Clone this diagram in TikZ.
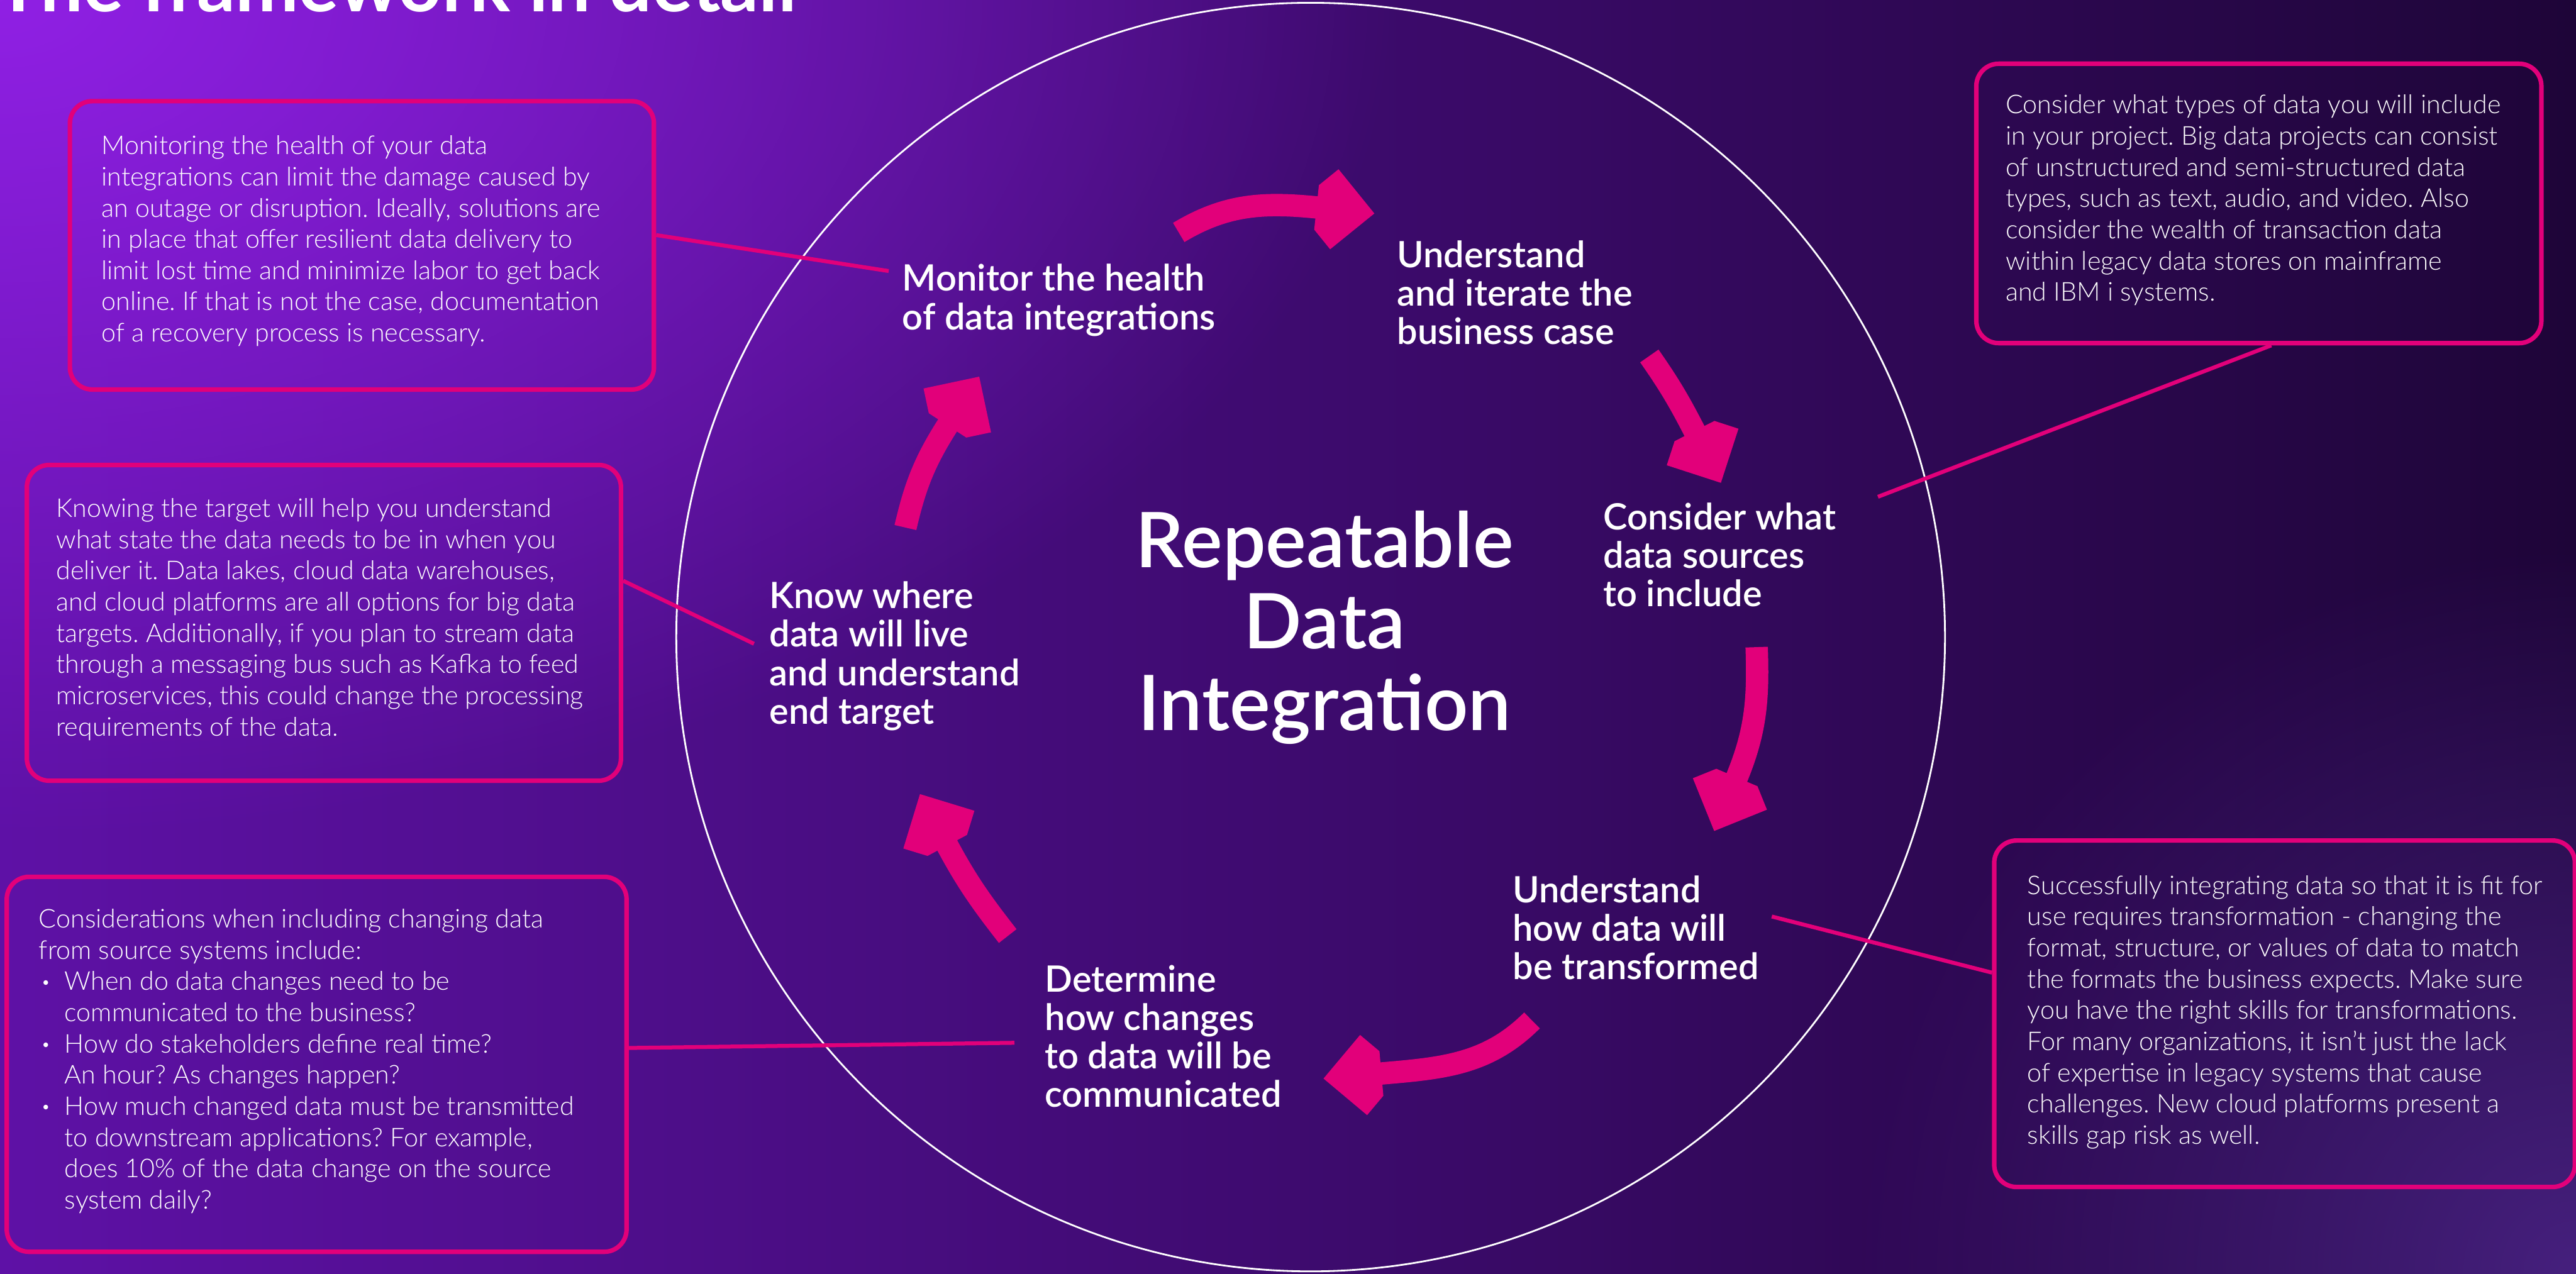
\documentclass[tikz,border=0pt]{standalone}
\usepackage{fontspec}
\setmainfont{Lato}
\newfontfamily\corps{Lato}[UprightFont={* Light}]
\newfontfamily\etape{Lato}[UprightFont={* Semibold}]
\usetikzlibrary{fadings}
\definecolor{rose}{HTML}{E2007A}
\definecolor{violetA}{HTML}{9020E4}
\definecolor{violetB}{HTML}{5E11A6}
\definecolor{violetC}{HTML}{34085E}
\definecolor{violetD}{HTML}{1E0538}
\definecolor{violetE}{HTML}{46207E}
\tikzfading[name=halo, inner color=transparent!0, outer color=transparent!100]
\newcommand{\puce}{\hspace*{0.04cm}\makebox[0.42cm][l]{\raisebox{0.12em}{\fontsize{8}{8}\selectfont\textbullet}}}
\newcommand{\suite}{\hspace*{0.46cm}}
\frenchspacing

\begin{document}
\begin{tikzpicture}
        \tikzset{boite/.style={draw=rose, line width=2.3pt, rounded corners=0.4cm, inner sep=0pt, anchor=north west}}
        \tikzset{texte/.style={text=white, align=left, inner sep=0pt, anchor=north west, font=\corps\fontsize{13.2}{15.9}\selectfont}}
        \tikzset{etiq/.style={text=white, align=left, inner sep=0pt, anchor=north west, font=\etape\fontsize{18.5}{19.6}\selectfont}}
        \tikzset{lien/.style={draw=rose, line width=2pt}}
        \tikzset{fleche/.style={draw=rose, line width=0.4cm}}
        \tikzset{pointe/.pic={\fill[rose] (0,0) -- (-0.72,0.72) -- (-1.04,0.40) -- (-1.04,-0.40) -- (-0.72,-0.72) -- cycle;}}
        \useasboundingbox (0,0) rectangle (46.09,22.79);
        \clip (0,0) rectangle (46.09,22.79);
        \shade[left color=violetB, middle color=violetC, right color=violetD] (0,0) rectangle (46.09,22.79);
        \fill[violetA, path fading=halo] (0,22.79) ellipse (25 and 15);
        \fill[violetE, path fading=halo] (46.09,0) circle (13);
        \node[anchor=base west, inner sep=0pt, text=white, font=\bfseries\fontsize{38.5}{42}\selectfont] (T) at (-0.08,22.58) {The framework in detail};
        \draw[white, line width=0.9pt] (23.45,11.39) circle (11.35);
        \node[anchor=north, align=center, inner sep=0pt, text=white, font=\etape\fontsize{39}{41.5}\selectfont] (RDI) at (23.70,13.66) {Repeatable\\Data\\Integration};
        \node[etiq] (MH) at (16.14,18.07) {Monitor the health\\of data integrations};
        \node[etiq] (UB) at (24.99,18.49) {Understand\\and iterate the\\business case};
        \node[etiq] (CD) at (28.68,13.80) {Consider what\\data sources\\to include};
        \node[etiq] (UT) at (27.06,7.13) {Understand\\how data will\\be transformed};
        \node[etiq] (DC) at (18.69,5.53) {Determine\\how changes\\to data will be\\communicated};
        \node[etiq] (KW) at (13.76,12.39) {Know where\\data will live\\and understand\\end target};
        \node[boite, minimum width=10.45cm, minimum height=5.16cm] (BMH) at (1.21,21.02) {};
        \node[boite, minimum width=10.11cm, minimum height=5.00cm] (BCD) at (35.32,21.69) {};
        \node[boite, minimum width=10.63cm, minimum height=5.65cm] (BKW) at (0.44,14.51) {};
        \node[boite, minimum width=10.39cm, minimum height=6.20cm] (BUT) at (35.64,7.79) {};
        \node[boite, minimum width=11.09cm, minimum height=6.71cm] (BDC) at (0.08,7.14) {};
        \node[texte] (TMH) at (1.81,20.37) {Monitoring the health of your data\\integrations can limit the damage caused by\\an outage or disruption. Ideally, solutions are\\in place that offer resilient data delivery to\\limit lost time and minimize labor to get back\\online. If that is not the case, documentation\\of a recovery process is necessary.};
        \node[texte] (TCD) at (35.88,21.10) {Consider what types of data you will include\\in your project. Big data projects can consist\\of unstructured and semi-structured data\\types, such as text, audio, and video. Also\\consider the wealth of transaction data\\within legacy data stores on mainframe\\and IBM i systems.};
        \node[texte] (TKW) at (1.00,13.88) {Knowing the target will help you understand\\what state the data needs to be in when you\\deliver it. Data lakes, cloud data warehouses,\\and cloud platforms are all options for big data\\targets. Additionally, if you plan to stream data\\through a messaging bus such as Kafka to feed\\microservices, this could change the processing\\requirements of the data.};
        \node[texte] (TUT) at (36.27,7.13) {Successfully integrating data so that it is fit for\\use requires transformation - changing the\\format, structure, or values of data to match\\the formats the business expects. Make sure\\you have the right skills for transformations.\\For many organizations, it isn’t just the lack\\of expertise in legacy systems that cause\\challenges. New cloud platforms present a\\skills gap risk as well.};
        \node[texte] (TDC) at (0.69,6.53) {Considerations when including changing data\\from source systems include:\\\puce When do data changes need to be\\\suite communicated to the business?\\\puce How do stakeholders define real time?\\\suite An hour? As changes happen?\\\puce How much changed data must be transmitted\\\suite to downstream applications? For example,\\\suite does 10\% of the data change on the source\\\suite system daily?};
        \coordinate (c1) at (15.90,17.94);
        \coordinate (c2) at (33.60,13.90);
        \coordinate (c3) at (13.49,11.27);
        \coordinate (c4) at (31.70,6.39);
        \coordinate (c5) at (18.15,4.13);
        \draw[lien] (BMH.2) -- (c1);
        \draw[lien] (BCD.-85) -- (c2);
        \draw[lien] (BKW.8) -- (c3);
        \draw[lien] (BUT.172) -- (c4);
        \draw[lien] (BDC.3) -- (c5);
        \coordinate (a1) at (21.09,18.63);
        \coordinate (p1) at (24.59,18.97);
        \coordinate (a2) at (29.51,16.42);
        \coordinate (p2) at (30.79,14.15);
        \coordinate (a3) at (31.43,11.21);
        \coordinate (p3) at (30.67,7.92);
        \coordinate (a4) at (27.41,4.53);
        \coordinate (p4) at (23.68,3.49);
        \coordinate (a5) at (18.03,6.04);
        \coordinate (p5) at (16.46,8.58);
        \coordinate (a6) at (16.20,13.35);
        \coordinate (p6) at (17.52,16.05);
        \draw[fleche] (a1) to[out=31,in=174] ([shift={(174:0.95)}]p1);
        \draw[fleche] (a2) to[out=-55,in=117] ([shift={(117:0.95)}]p2);
        \draw[fleche] (a3) to[out=-88,in=67] ([shift={(67:0.95)}]p3);
        \draw[fleche] (a4) to[out=225,in=5] ([shift={(5:0.95)}]p4);
        \draw[fleche] (a5) to[out=128,in=-62] ([shift={(-62:0.95)}]p5);
        \draw[fleche] (a6) to[out=77,in=237] ([shift={(237:0.95)}]p6);
        \pic[rotate=-6] at (p1) {pointe};
        \pic[rotate=-63] at (p2) {pointe};
        \pic[rotate=-113] at (p3) {pointe};
        \pic[rotate=185] at (p4) {pointe};
        \pic[rotate=118] at (p5) {pointe};
        \pic[rotate=57] at (p6) {pointe};
\end{tikzpicture}
\end{document}
